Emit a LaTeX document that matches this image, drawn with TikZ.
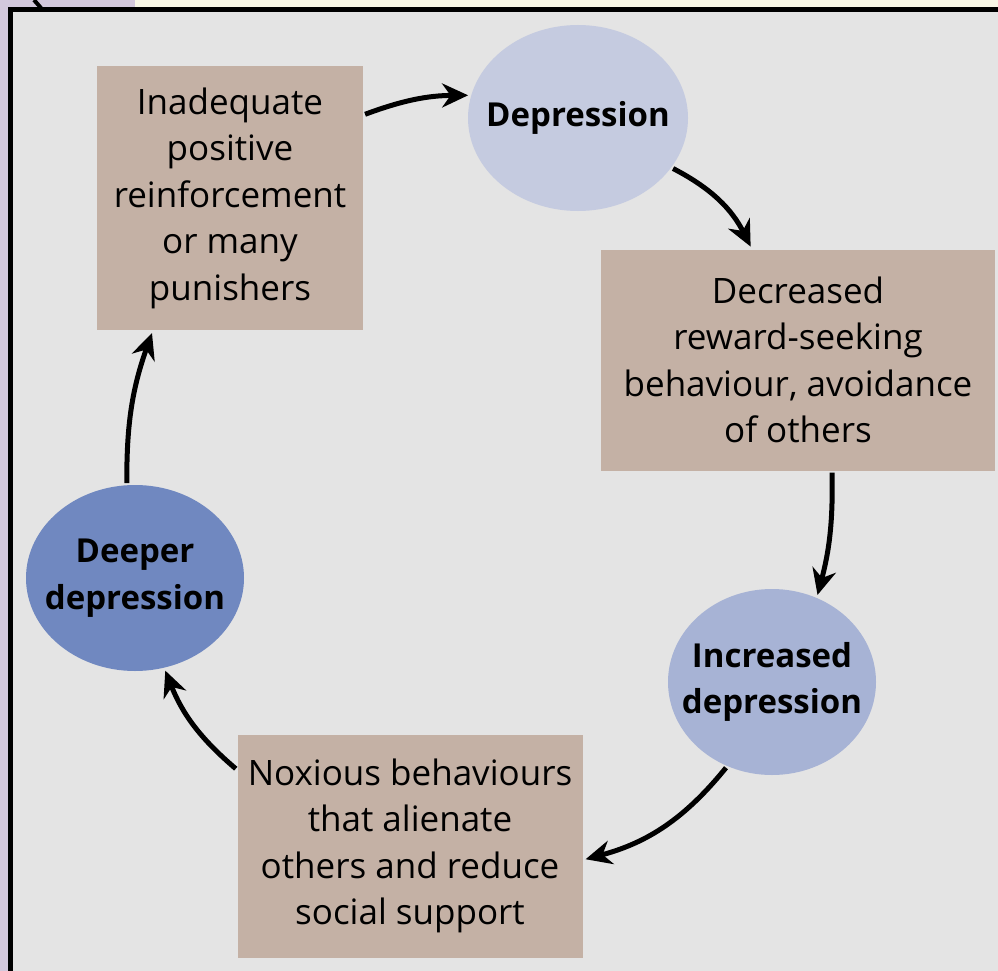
\documentclass[tikz,border=0pt]{standalone}
\usepackage{fontspec}
\setmainfont{Open Sans}
\usetikzlibrary{arrows.meta}
\usetikzlibrary{shapes.geometric}
\definecolor{cream}{HTML}{F8F6E6}
\definecolor{lavender}{HTML}{D3C8DC}
\definecolor{panel}{HTML}{E4E4E4}
\definecolor{boxfill}{HTML}{C4B1A5}
\definecolor{paleblue}{HTML}{C5CBE0}
\definecolor{midblue}{HTML}{A7B3D5}
\definecolor{deepblue}{HTML}{7088C0}
\tikzset{
  box/.style={fill=boxfill, align=center, inner sep=0,
    font=\fontsize{35}{46.5}\selectfont},
  blob/.style={ellipse, inner sep=0,
    minimum width=218pt, minimum height=186pt},
  blobtext/.style={align=center, inner sep=0,
    font=\fontsize{33}{46.5}\selectfont\bfseries},
  link/.style={line width=5pt, -{Stealth[length=26pt,width=24pt]},
    shorten <=2pt, shorten >=3pt}
}

\begin{document}
\begin{tikzpicture}[x=1pt,y=-1pt]
    \useasboundingbox (0,0) rectangle (998,971);
    % page and frame
    \fill[cream] (0,0) rectangle (998,971);
    \fill[lavender] (0,0) rectangle (9,971);
    \fill[lavender] (0,0) rectangle (135,7);
    \fill[panel] (10,9) rectangle (998,971);
    \draw[line width=5pt] (10.5,971) -- (10.5,9.5) -- (998,9.5);
    \draw[line width=4pt] (34,0) -- (41,8);

    % steps of the cycle
    \node[box, minimum width=266pt, minimum height=264pt] (inadequate) at (230,198)
      {Inadequate\\positive\\reinforcement\\or many\\punishers};
    \node[blob, fill=paleblue, minimum width=220pt,
      label={[blobtext]center:Depression}] (depression) at (578,118) {};
    \node[box, minimum width=394pt, minimum height=221pt] (decreased) at (798,360)
      {Decreased\\reward-seeking\\behaviour, avoidance\\of others};
    \node[blob, fill=midblue, minimum width=208pt,
      label={[blobtext]center:{Increased\\depression}}] (increased) at (772,682) {};
    \node[box, minimum width=345pt, minimum height=223pt] (noxious) at (410,846)
      {Noxious behaviours\\that alienate\\others and reduce\\social support};
    \node[blob, fill=deepblue,
      label={[blobtext]center:{Deeper\\depression}}] (deeper) at (135,578) {};

    % arrows
    \draw[link] ([yshift=83pt]inadequate.east) to[bend left=10] (depression.168);
    \draw[link] (depression.-28) to[bend left=18] ([xshift=-46pt]decreased.north);
    \draw[link] ([xshift=34pt]decreased.south) to[bend left=8] (increased.62);
    \draw[link] (increased.-118) to[bend left=18] ([yshift=-14pt]noxious.east);
    \draw[link] ([yshift=76pt]noxious.west) to[bend left=14] (deeper.-72);
    \draw[link] (deeper.95) to[bend left=10] ([xshift=-77pt]inadequate.south);
\end{tikzpicture}
\end{document}
